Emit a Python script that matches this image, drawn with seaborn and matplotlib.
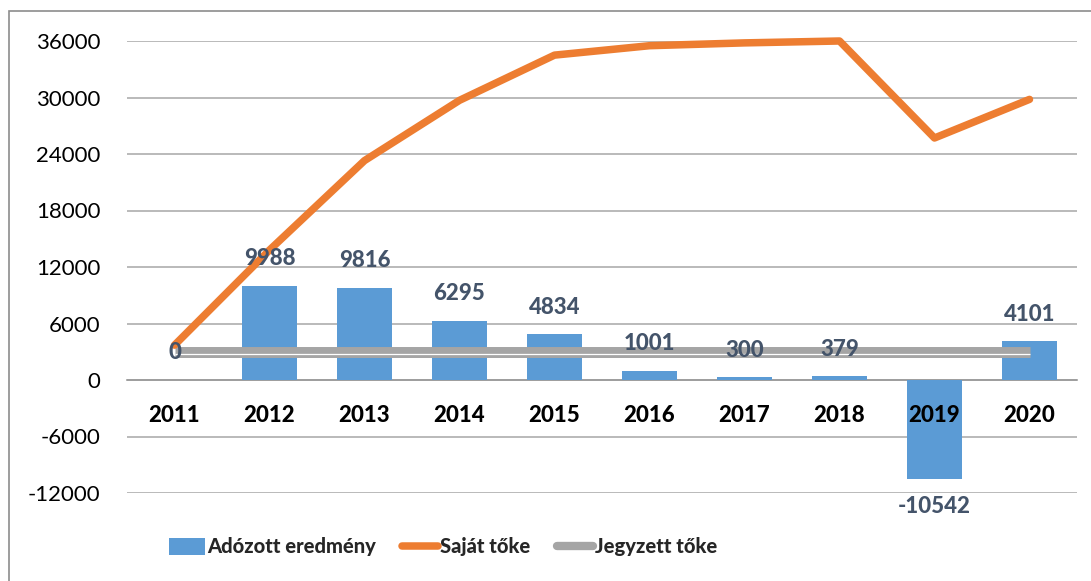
import numpy as np
import pandas as pd
import matplotlib
matplotlib.use("Agg")
import matplotlib.pyplot as plt
import matplotlib.transforms as mtransforms
from matplotlib.patches import Rectangle, Patch
from matplotlib.lines import Line2D
import seaborn as sns

years = [2011, 2012, 2013, 2014, 2015, 2016, 2017, 2018, 2019, 2020]
adozott_eredmeny = [0, 9988, 9816, 6295, 4834, 1001, 300, 379, -10542, 4101]
sajat_toke = [3700, 13800, 23300, 29700, 34500, 35500, 35800, 36000, 25700, 29800]
jegyzett_toke = [3000, 3000, 3000, 3000, 3000, 3000, 3000, 3000, 3000, 3000]
yticks = [-12000, -6000, 0, 6000, 12000, 18000, 24000, 30000, 36000]
legend_labels = ["Adózott eredmény", "Saját tőke", "Jegyzett tőke"]

BLUE = "#5B9BD5"
ORANGE = "#ED7D31"
GRAY = "#A5A5A5"
LABEL = "#44546A"
HEAVY = 900

sns.set_theme(style="white")
plt.rcParams["font.family"] = ["Lato", "DejaVu Sans"]

df = pd.DataFrame({"year": years, "adozott": adozott_eredmeny,
                   "sajat": sajat_toke, "jegyzett": jegyzett_toke})

fig = plt.figure(figsize=(10.91, 5.81), dpi=100)
ax = fig.add_axes([127 / 1091, 1 - 493 / 581, (1077 - 127) / 1091, (493 - 41) / 581])

sns.barplot(data=df, x="year", y="adozott", native_scale=True, width=0.57,
            color=BLUE, saturation=1, ax=ax, zorder=2, linewidth=0)

# Jegyzett tőke: double (thick-thin) gray line
sns.lineplot(data=df, x="year", y="jegyzett", color=GRAY, linewidth=7.9,
             ax=ax, zorder=3, solid_capstyle="butt")
off = mtransforms.offset_copy(ax.transData, fig=fig, x=0, y=-2.3, units="dots")
ax.plot(df["year"], df["jegyzett"], color="white", linewidth=0.9,
        transform=off, zorder=3.5, solid_capstyle="butt")

sns.lineplot(data=df, x="year", y="sajat", color=ORANGE, linewidth=5.4,
             ax=ax, zorder=4, solid_capstyle="round", solid_joinstyle="round")
for ln in ax.lines:
    ln.set_clip_on(False)

# data labels
ax.bar_label(ax.containers[0], labels=[str(v) for v in adozott_eredmeny],
             padding=12, color=LABEL, fontsize=16, fontweight=HEAVY, zorder=6)

ax.set_xlim(2010.5, 2020.5)
ax.set_ylim(-12000, 36000)
ax.set_yticks(yticks)
ax.set_yticklabels([str(t) for t in yticks], fontsize=16, color="black")
ax.tick_params(axis="y", length=0, pad=19)
ax.yaxis.grid(True, color="#AEAEAE", linewidth=1.2)
ax.set_axisbelow(True)

for s in ["top", "right", "left"]:
    ax.spines[s].set_visible(False)
ax.spines["bottom"].set_position(("data", 0))
ax.spines["bottom"].set_color("#9A9A9A")
ax.spines["bottom"].set_linewidth(1.2)
ax.spines["bottom"].set_zorder(1)

ax.set_xticks(years)
ax.set_xticklabels([str(y) for y in years], fontsize=16, fontweight=HEAVY, color="black")
ax.tick_params(axis="x", which="major", length=0, pad=18)
ax.set_xticks(np.arange(2010.5, 2021.0, 1.0), minor=True)
ax.tick_params(axis="x", which="minor", length=8, width=1, color="#9A9A9A", direction="out")
ax.xaxis.set_zorder(5)
ax.set_xlabel("")
ax.set_ylabel("")

handles = [Patch(facecolor=BLUE, edgecolor="none"),
           Line2D([], [], color=ORANGE, linewidth=5.4, solid_capstyle="round"),
           Line2D([], [], color=GRAY, linewidth=6)]
leg = fig.legend(handles, legend_labels, loc="center", bbox_to_anchor=(443 / 1091, 1 - 547 / 581),
                 ncol=3, frameon=False, prop={"size": 14.5, "weight": HEAVY},
                 handlelength=1.8, handletextpad=0.1, columnspacing=1.3, handleheight=0.9)

fig.add_artist(Rectangle((9 / 1091, -0.1), 1.2, 1.1 - 11 / 581, transform=fig.transFigure,
                         fill=False, edgecolor="#8C8C8C", linewidth=1.2))

fig.savefig("out.png", dpi=100)
